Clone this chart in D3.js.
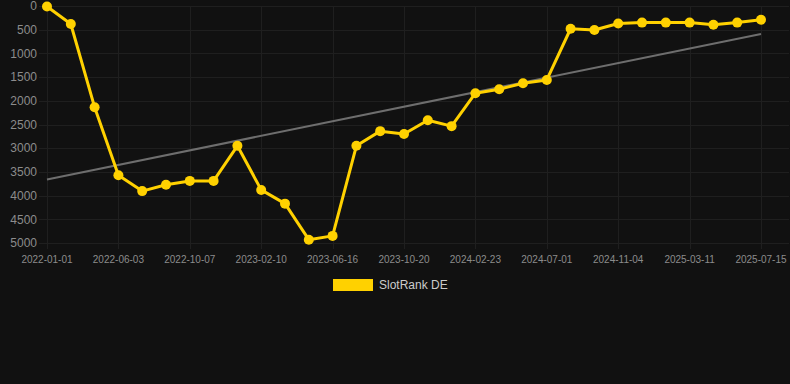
<!DOCTYPE html>
<html lang="en">
<head>
<meta charset="UTF-8">
<title>SlotRank DE</title>
<style>
    body {
        margin: 0;
        background: #111111;
        font-family: Arial, "Liberation Sans", sans-serif;
    }
    .grid line {
        stroke: #1f1f1f;
        stroke-width: 1;
    }
    .axis-label {
        fill: #8c8c8c;
    }
</style>
</head>
<body>
<svg id="chart" width="790" height="384"></svg>

<script src="https://d3js.org/d3.v7.min.js"></script>
<script>
    // dates on the category axis (every third one is labelled)
    var dates = [
        "2022-01-01", "2022-02-21", "2022-04-13", "2022-06-03", "2022-07-15", "2022-08-26",
        "2022-10-07", "2022-11-18", "2022-12-30", "2023-02-10", "2023-03-24", "2023-05-05",
        "2023-06-16", "2023-07-28", "2023-09-08", "2023-10-20", "2023-12-01", "2024-01-12",
        "2024-02-23", "2024-04-05", "2024-05-20", "2024-07-01", "2024-08-12", "2024-09-23",
        "2024-11-04", "2024-12-17", "2025-01-28", "2025-03-11", "2025-04-22", "2025-06-03",
        "2025-07-15"
    ];
    var ranks = [
        10, 380, 2135, 3570, 3905, 3770, 3690, 3690, 2950, 3880, 4170,
        4930, 4850, 2950, 2640, 2700, 2410, 2535, 1840, 1755, 1630,
        1560, 480, 505, 370, 350, 350, 350, 395, 350, 290
    ];
    var trend = [3660, 590];   // start and end of the trend line
    var yTicks = [0, 500, 1000, 1500, 2000, 2500, 3000, 3500, 4000, 4500, 5000];
    var seriesName = "SlotRank DE";

    var svg = d3.select("#chart");
    var plotLeft = 47, plotRight = 761, plotTop = 6, plotBottom = 243;

    var x = d3.scalePoint()
        .domain(dates)
        .range([plotLeft, plotRight]);

    var y = d3.scaleLinear()
        .domain([0, 5000])
        .range([plotTop, plotBottom]);

    // horizontal grid
    svg.append("g")
        .attr("class", "grid")
        .selectAll("line")
        .data(yTicks)
        .enter().append("line")
        .attr("x1", plotLeft - 8)
        .attr("x2", 789)
        .attr("y1", d => Math.round(y(d)) + 0.5)
        .attr("y2", d => Math.round(y(d)) + 0.5);

    // vertical grid at labelled dates
    var shown = dates.filter((d, i) => i % 3 === 0);
    svg.append("g")
        .attr("class", "grid")
        .selectAll("line")
        .data(shown)
        .enter().append("line")
        .attr("x1", d => Math.round(x(d)) + 0.5)
        .attr("x2", d => Math.round(x(d)) + 0.5)
        .attr("y1", plotTop)
        .attr("y2", plotBottom + 6);

    // y labels
    svg.append("g")
        .selectAll("text")
        .data(yTicks)
        .enter().append("text")
        .attr("class", "axis-label")
        .attr("x", 37)
        .attr("y", d => y(d))
        .attr("dy", "0.35em")
        .attr("text-anchor", "end")
        .style("font-size", "12px")
        .text(d => d);

    // x labels
    svg.append("g")
        .selectAll("text")
        .data(shown)
        .enter().append("text")
        .attr("class", "axis-label")
        .attr("x", d => x(d))
        .attr("y", 263)
        .attr("text-anchor", "middle")
        .style("font-size", "10px")
        .text(d => d);

    // trend line
    svg.append("line")
        .attr("x1", x(dates[0]))
        .attr("y1", y(trend[0]))
        .attr("x2", x(dates[dates.length - 1]))
        .attr("y2", y(trend[1]))
        .attr("stroke", "#6e6e6e")
        .attr("stroke-width", 2);

    var points = dates.map((d, i) => ({ date: d, rank: ranks[i] }));

    var line = d3.line()
        .x(d => x(d.date))
        .y(d => y(d.rank));

    svg.append("path")
        .datum(points)
        .attr("fill", "none")
        .attr("stroke", "#ffd100")
        .attr("stroke-width", 3)
        .attr("stroke-linejoin", "round")
        .attr("d", line);

    svg.selectAll(".dot")
        .data(points)
        .enter().append("circle")
        .attr("class", "dot")
        .attr("cx", d => x(d.date))
        .attr("cy", d => y(d.rank))
        .attr("r", 5)
        .attr("fill", "#ffd100");

    // legend
    svg.append("rect")
        .attr("x", 333)
        .attr("y", 279)
        .attr("width", 40)
        .attr("height", 12)
        .attr("fill", "#ffd100");

    svg.append("text")
        .attr("x", 379)
        .attr("y", 285)
        .attr("dy", "0.35em")
        .attr("fill", "#cccccc")
        .style("font-size", "12px")
        .text(seriesName);
</script>
</body>
</html>
